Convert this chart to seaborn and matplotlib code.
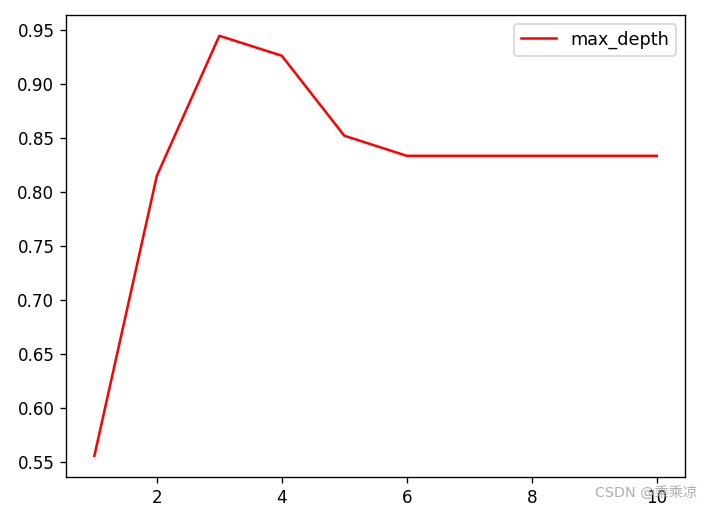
import matplotlib
matplotlib.use("Agg")
import matplotlib.pyplot as plt
import seaborn as sns

# accuracy by max_depth
max_depth = [1, 2, 3, 4, 5, 6, 7, 8, 9, 10]
score = [0.5556, 0.8148, 0.9444, 0.9259, 0.8519, 0.8333, 0.8333, 0.8333, 0.8333, 0.8333]

# rendered at a higher dpi so the text comes out larger, like the original
dpi = 121
fig = plt.figure(figsize=(712 / dpi, 509 / dpi), dpi=dpi)
ax = fig.add_axes([0.093, 0.063, 0.869, 0.908])
sns.lineplot(x=max_depth, y=score, color="red", label="max_depth", ax=ax)
ax.set_yticks([0.55, 0.60, 0.65, 0.70, 0.75, 0.80, 0.85, 0.90, 0.95])
ax.set_xticks([2, 4, 6, 8, 10])
ax.legend(loc="upper right", fontsize=10.5)

fig.text(0.979, 0.018, "CSDN @乘乘凉", ha="right", va="bottom", fontsize=8.5,
         color="#b0b0b0", family=["DejaVu Sans", "Noto Sans CJK SC"])

fig.savefig("out.png", dpi=dpi)
